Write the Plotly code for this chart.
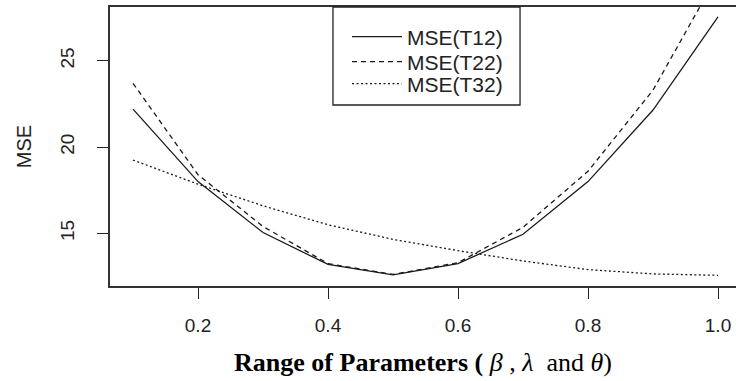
import plotly.graph_objects as go

x_vals = [0.1, 0.2, 0.3, 0.4, 0.5, 0.6, 0.7, 0.8, 0.9, 1.0]
mse_t12 = [22.2, 18.0, 15.05, 13.2, 12.6, 13.25, 14.95, 18.0, 22.15, 27.55]
mse_t22 = [23.7, 18.4, 15.4, 13.25, 12.62, 13.3, 15.35, 18.6, 23.3, 30.0]
mse_t32 = [19.25, 17.85, 16.6, 15.5, 14.65, 14.0, 13.4, 12.9, 12.65, 12.57]

series_names = ["MSE(T12)", "MSE(T22)", "MSE(T32)"]
x_tickvals = [0.2, 0.4, 0.6, 0.8, 1.0]
x_ticktext = ["0.2", "0.4", "0.6", "0.8", "1.0"]
y_tickvals = [15, 20, 25]
y_ticktext = ["15", "20", "25"]

line_color = "#1a1a1a"
dashes = ["solid", "5px,4px", "2px,2.5px"]
legend_ids = ["legend", "legend2", "legend3"]
legend_rows_y = [0.8925, 0.8029, 0.724]

sans = "Liberation Sans, Arial, sans-serif"

fig = go.Figure()
for name, ys, d, lid in zip(series_names, [mse_t12, mse_t22, mse_t32], dashes, legend_ids):
    fig.add_trace(go.Scatter(
        x=x_vals, y=ys, mode="lines", name=name, legend=lid,
        line=dict(color=line_color, width=1.3, dash=d),
    ))

legend_common = dict(
    xanchor="left", yanchor="middle", x=0.3786,
    bgcolor="rgba(0,0,0,0)", borderwidth=0,
    font=dict(family=sans, size=21, color="#222"),
    itemwidth=50,
)

fig.update_layout(
    width=736, height=381,
    margin=dict(l=110, r=0, t=7, b=95, autoexpand=False),
    paper_bgcolor="white", plot_bgcolor="white",
    font=dict(family=sans, color="#222", size=19),
    showlegend=True,
    legend=dict(y=legend_rows_y[0], **legend_common),
    legend2=dict(y=legend_rows_y[1], **legend_common),
    legend3=dict(y=legend_rows_y[2], **legend_common),
    shapes=[dict(
        type="rect", xref="paper", yref="paper",
        x0=0.3562, x1=0.655, y0=0.6487, y1=1.0,
        line=dict(color="#222", width=1.3), fillcolor="white", layer="above",
    )],
    xaxis=dict(
        range=[0.0646, 1.0277], automargin=False,
        tickvals=x_tickvals, ticktext=x_ticktext,
        ticks="outside", ticklen=11, tickwidth=1.3, tickcolor="#222",
        showline=True, linecolor="#333", linewidth=1.5, mirror=True,
        showgrid=False, zeroline=False,
        ticklabelstandoff=10,
        tickfont=dict(size=19),
        title=dict(
            text="<b>Range of Parameters (</b> <i>β</i> , <i>λ</i>  and <i>θ</i>)",
            font=dict(family="Liberation Serif, Times New Roman, serif", size=26, color="black"),
            standoff=18,
        ),
    ),
    yaxis=dict(
        range=[11.95, 28.12], automargin=False,
        tickvals=y_tickvals, ticktext=y_ticktext,
        ticks="outside", ticklen=11, tickwidth=1.3, tickcolor="#222",
        showline=True, linecolor="#333", linewidth=1.5, mirror=False,
        showgrid=False, zeroline=False,
        tickangle=-90,
        ticklabelstandoff=16,
        tickfont=dict(size=19),
        title=dict(text="MSE", font=dict(family=sans, size=20, color="#222"), standoff=20),
    ),
)

fig.write_html(
    "out.html",
    config={"displayModeBar": False},
    post_script="document.body.style.margin='0px';",
)
